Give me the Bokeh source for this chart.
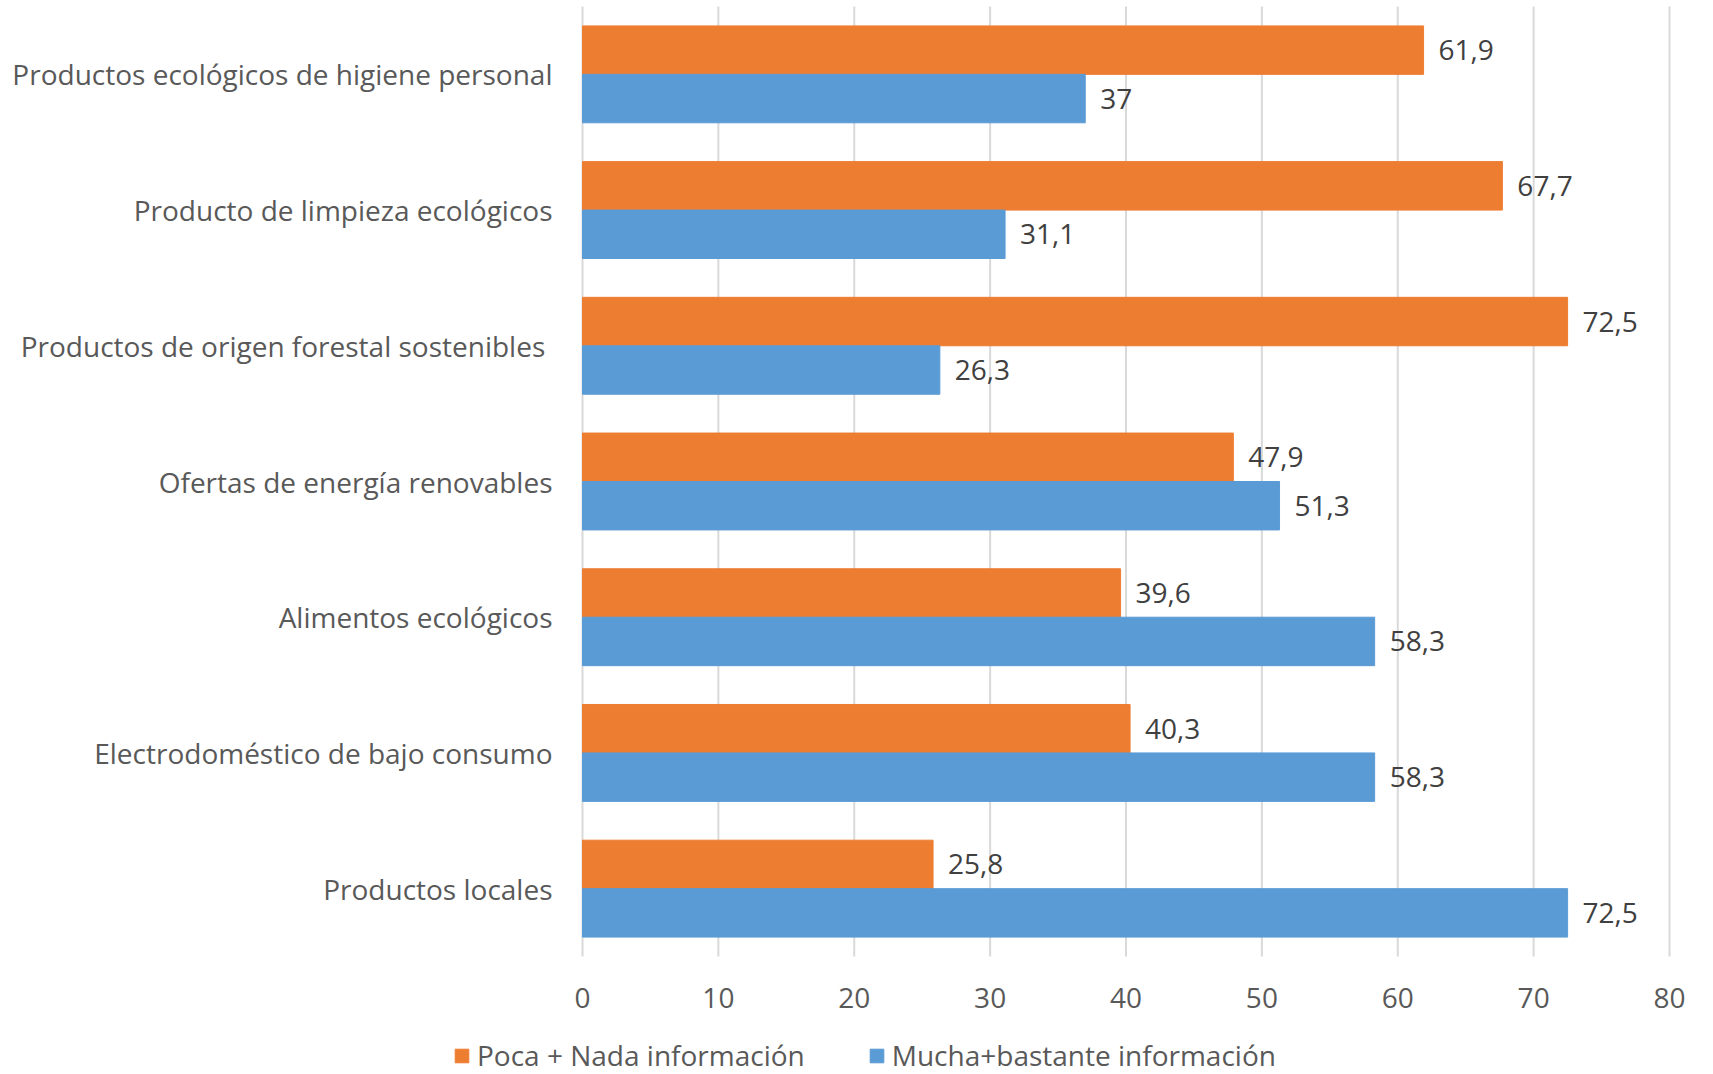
from bokeh.plotting import figure
from bokeh.models import ColumnDataSource, Range1d, Legend, LegendItem
from bokeh.core.properties import value
from bokeh.embed import file_html
from bokeh.resources import INLINE

categories = [
    "Productos ecológicos de higiene personal",
    "Producto de limpieza ecológicos",
    "Productos de origen forestal sostenibles ",
    "Ofertas de energía renovables",
    "Alimentos ecológicos",
    "Electrodoméstico de bajo consumo",
    "Productos locales",
]
poca = [61.9, 67.7, 72.5, 47.9, 39.6, 40.3, 25.8]
mucha = [37, 31.1, 26.3, 51.3, 58.3, 58.3, 72.5]
poca_labels = ["61,9", "67,7", "72,5", "47,9", "39,6", "40,3", "25,8"]
mucha_labels = ["37", "31,1", "26,3", "51,3", "58,3", "58,3", "72,5"]
series_names = ["Poca + Nada información", "Mucha+bastante información"]
x_ticks = [0, 10, 20, 30, 40, 50, 60, 70, 80]
x_tick_labels = ["0", "10", "20", "30", "40", "50", "60", "70", "80"]

FONT = "Open Sans"
FS = "28px"
ORANGE = "#ED7D31"
BLUE = "#5B9BD5"
TXT = "#595959"

# ---- layout (pixels) ----
W, H = 1713, 1074
PX_X0, PX_X1 = 582, 1669          # where value 0 and value 80 fall
PX_TOP, PX_BOT = 6, 956           # top / bottom of the category band
XMIN, XMAX = x_ticks[0], x_ticks[-1]
n = len(categories)
sx = (PX_X1 - PX_X0) / (XMAX - XMIN)
unit = (PX_BOT - PX_TOP) / n
top_edge = n - 0.5
bot_edge = -0.5
x_range = Range1d(XMIN - PX_X0 / sx, XMAX + (W - PX_X1) / sx)
y_range = Range1d(top_edge - (H - PX_TOP) / unit, top_edge + PX_TOP / unit)

pos = [n - 1 - i for i in range(n)]
off = 0.1785
hh = 0.357
src = ColumnDataSource(dict(
    cat=categories, pos=pos, zero=[XMIN] * n,
    y_poca=[v + off for v in pos], y_mucha=[v - off for v in pos],
    poca=poca, mucha=mucha, poca_lbl=poca_labels, mucha_lbl=mucha_labels))

p = figure(width=W, height=H, x_range=x_range, y_range=y_range,
           output_backend="svg", toolbar_location=None,
           x_axis_location=None, y_axis_location=None,
           min_border_left=0, min_border_right=0,
           min_border_top=0, min_border_bottom=0)
p.outline_line_color = None
p.grid.grid_line_color = None
p.background_fill_color = "white"
p.border_fill_color = "white"

# vertical gridlines at the ticks, spanning the category band
p.segment(x0=x_ticks, x1=x_ticks, y0=[bot_edge] * len(x_ticks), y1=[top_edge] * len(x_ticks),
          line_color="#D9D9D9", line_width=2)

# bars
r1 = p.hbar(y="y_poca", left=0, right="poca", height=hh, color=ORANGE, source=src)
r2 = p.hbar(y="y_mucha", left=0, right="mucha", height=hh, color=BLUE, source=src)

# data labels
p.text(x="poca", y="y_poca", text="poca_lbl", source=src,
       x_offset=15, text_align="left", text_baseline="middle",
       text_font=value(FONT), text_font_size=FS, text_color="#404040")
p.text(x="mucha", y="y_mucha", text="mucha_lbl", source=src,
       x_offset=15, text_align="left", text_baseline="middle",
       text_font=value(FONT), text_font_size=FS, text_color="#404040")

# category labels (y axis)
p.text(x="zero", y="pos", text="cat", source=src,
       x_offset=-30, text_align="right", text_baseline="middle",
       text_font=value(FONT), text_font_size=FS, text_color=TXT)

# x tick labels
p.text(x=x_ticks, y=[bot_edge] * len(x_ticks), text=x_tick_labels,
       y_offset=41, text_align="center", text_baseline="middle",
       text_font=value(FONT), text_font_size=FS, text_color=TXT)

legend = Legend(items=[LegendItem(label=series_names[0], renderers=[r1]),
                       LegendItem(label=series_names[1], renderers=[r2])],
                location=(453, 0), orientation="horizontal",
                padding=0, margin=0, spacing=63,
                glyph_width=17, glyph_height=17, label_standoff=7,
                background_fill_alpha=0, border_line_color=None,
                label_text_font=FONT, label_text_font_size=FS,
                label_text_color=TXT)
p.add_layout(legend, "center")

open("out.html", "w").write(file_html(p, INLINE))
